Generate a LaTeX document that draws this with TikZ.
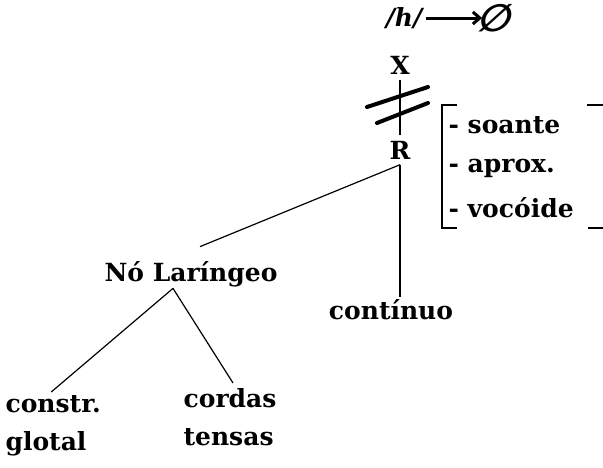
\documentclass[tikz,border=0pt]{standalone}
\usepackage{fontspec}
\setmainfont{DejaVu Serif}
\newfontfamily\symfont{DejaVu Sans}
\usetikzlibrary{arrows.meta}
\begin{document}
\begin{tikzpicture}[x=1pt, y=-1pt, line width=1.2pt,
  lbl/.style={font=\fontsize{25}{38}\selectfont\bfseries, inner sep=0pt, align=left},
  seg/.style={lbl, inner sep=5pt},
  slash/.style={line width=4pt, line cap=round},
]
  \useasboundingbox (0,0) rectangle (603,467);

  % Top rule
  \node[lbl] (h) at (404,18) {\itshape /h/};
  \node[lbl, xslant=0.3, transform shape] (zero) at (497,18) {\symfont\bfseries\fontsize{38}{38}\selectfont ∅};
  \draw[-{Straight Barb[length=7pt, width=12pt]}, line width=3pt] ([xshift=3pt]h.east) -- ([xshift=2pt]zero.west);

  % Skeleton
  \node[seg] (X) at (400,65) {X};
  \node[seg] (R) at (400,150) {R};
  \draw (X) -- (R);
  \draw[slash] (367,107) -- (428,87);
  \draw[slash] (377,123) -- (428,103);

  % Features
  \node[lbl] (lar) at (191,274) {Nó Laríngeo};
  \node[lbl] (cont) at (391,310) {contínuo};
  \node[lbl, anchor=north west] (cg) at (5,395) {constr.\\glotal};
  \node[lbl, anchor=north west] (ct) at (183,388) {cordas\\tensas};

  % Bracket
  \node[lbl, anchor=west] (soa) at (448,125) {- soante};
  \node[lbl, anchor=west] (apr) at (448,168) {- aprox.};
  \node[lbl, anchor=west] (voc) at (448,208) {- vocóide};
  \draw (457,105) -- (442,105) -- (442,228) -- (457,228);
  \draw (587,105) -- (603,105);
  \draw (588,228) -- (603,228);

  % Links
  \draw (R.south) -- ([xshift=9pt, yshift=14pt]lar.north);
  \draw (R.south) -- ([xshift=9pt, yshift=2pt]cont.north);
  \draw ([xshift=-18pt, yshift=-1pt]lar.south) -- ([xshift=-2pt, yshift=3pt]cg.north);
  \draw ([xshift=-18pt, yshift=-1pt]lar.south) -- ([xshift=3pt, yshift=5pt]ct.north);
\end{tikzpicture}
\end{document}
